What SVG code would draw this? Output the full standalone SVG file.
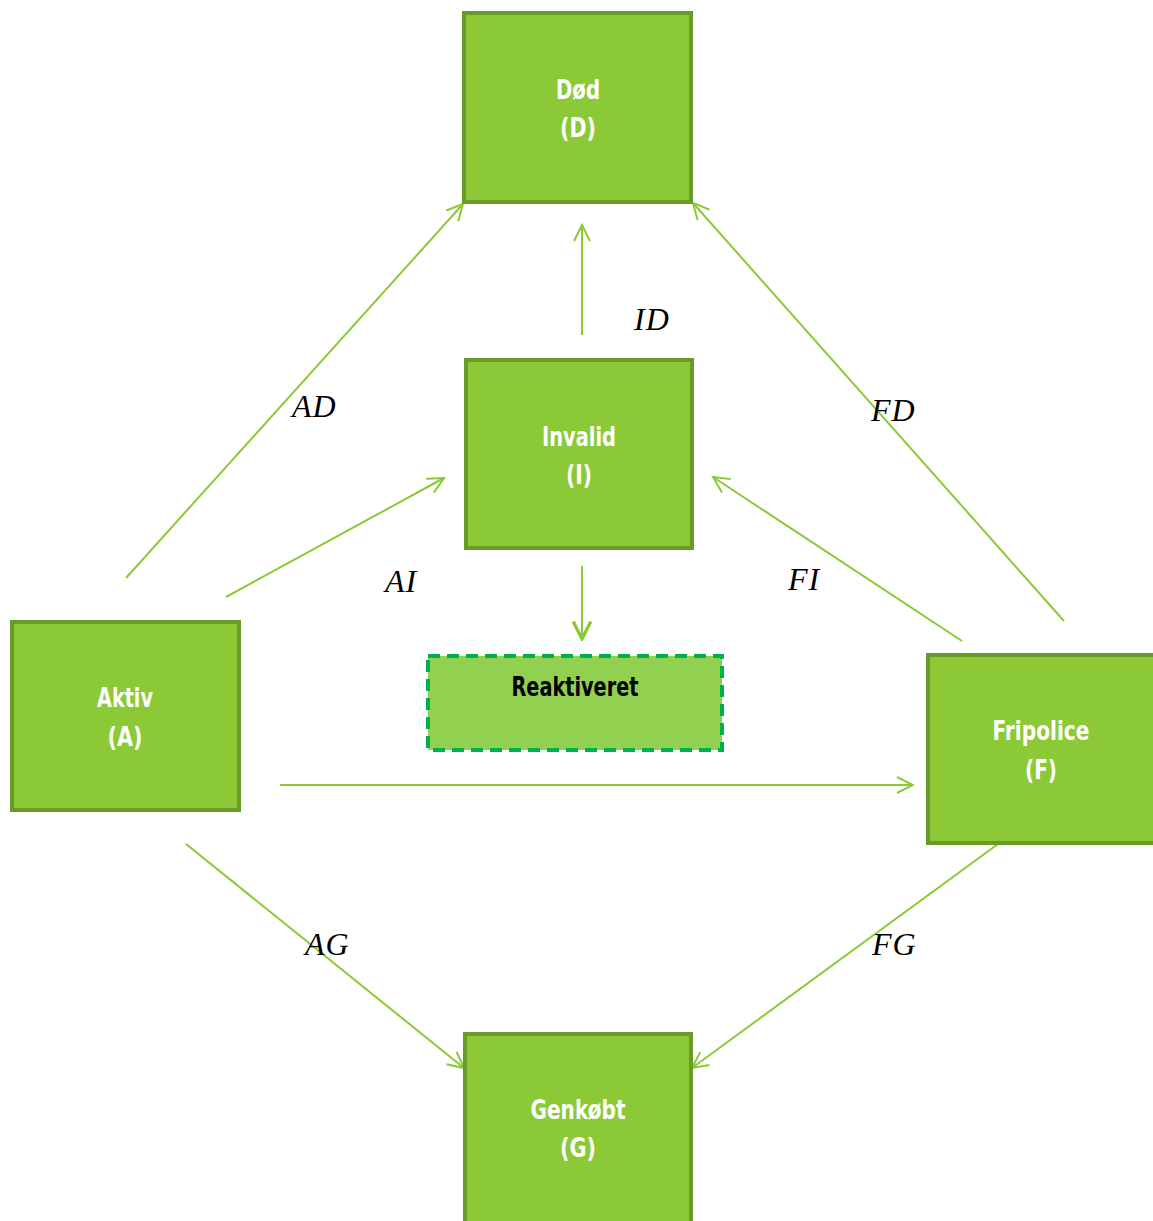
<svg xmlns="http://www.w3.org/2000/svg" width="1153" height="1221" viewBox="0 0 1153 1221">
<style>
.box{fill:#8cc936;stroke:#6a9a27;stroke-width:4}
.t{font-family:"DejaVu Sans Condensed","Liberation Sans Narrow","DejaVu Sans",sans-serif;font-stretch:condensed;font-weight:bold;font-size:27px;fill:#fff;text-anchor:middle}
.lbl{font-family:"Liberation Serif","DejaVu Serif",serif;font-style:italic;font-size:32px;fill:#000;letter-spacing:1px}
.c{stroke:#8cc936;stroke-width:2;fill:none}
</style>
<defs>
<marker id="ah" viewBox="0 0 20 20" refX="18" refY="10" markerWidth="20" markerHeight="20" markerUnits="userSpaceOnUse" orient="auto">
<path d="M2,2 L18,10 L2,18" fill="none" stroke="#8cc936" stroke-width="2"/>
</marker>
<marker id="ah2" viewBox="0 0 20 20" refX="18" refY="10" markerWidth="22" markerHeight="22" markerUnits="userSpaceOnUse" orient="auto">
<path d="M2,2 L18,10 L2,18" fill="none" stroke="#8cc936" stroke-width="3"/>
</marker>
</defs>
<g id="connectors">
<line class="c" x1="126" y1="578" x2="463" y2="204" marker-end="url(#ah)"/>
<line class="c" x1="582" y1="335" x2="582" y2="225" marker-end="url(#ah)"/>
<line class="c" x1="1064" y1="621" x2="693" y2="203" marker-end="url(#ah)"/>
<line class="c" x1="226" y1="597" x2="444" y2="478" marker-end="url(#ah)"/>
<line class="c" x1="962" y1="641" x2="713" y2="477" marker-end="url(#ah)"/>
<line class="c" x1="582" y1="566" x2="582" y2="639" stroke-width="3" marker-end="url(#ah2)"/>
<line class="c" x1="280" y1="785" x2="913" y2="785" marker-end="url(#ah)"/>
<line class="c" x1="186" y1="844" x2="464" y2="1068" marker-end="url(#ah)"/>
<line class="c" x1="998" y1="844" x2="692" y2="1068" marker-end="url(#ah)"/>
<text class="lbl" x="292" y="417">AD</text>
<text class="lbl" x="634" y="330">ID</text>
<text class="lbl" x="871" y="421">FD</text>
<text class="lbl" x="385" y="592">AI</text>
<text class="lbl" x="788" y="590">FI</text>
<text class="lbl" x="305" y="955">AG</text>
<text class="lbl" x="872" y="955">FG</text>
</g>
<g id="node-D">
<rect class="box" x="464" y="13" width="227" height="189"/>
<text class="t" x="578" y="99" textLength="44" lengthAdjust="spacingAndGlyphs">Død</text>
<text class="t" x="578" y="137" textLength="36" lengthAdjust="spacingAndGlyphs">(D)</text>
</g>
<g id="node-I">
<rect class="box" x="466" y="360" width="226" height="188"/>
<text class="t" x="579" y="446" textLength="74" lengthAdjust="spacingAndGlyphs">Invalid</text>
<text class="t" x="579" y="484" textLength="26" lengthAdjust="spacingAndGlyphs">(I)</text>
</g>
<g id="node-A">
<rect class="box" x="12" y="622" width="227" height="188"/>
<text class="t" x="125" y="707" textLength="56" lengthAdjust="spacingAndGlyphs">Aktiv</text>
<text class="t" x="125" y="746" textLength="35" lengthAdjust="spacingAndGlyphs">(A)</text>
</g>
<g id="node-F">
<rect class="box" x="928" y="655" width="228" height="188"/>
<text class="t" x="1041" y="740" textLength="97" lengthAdjust="spacingAndGlyphs">Fripolice</text>
<text class="t" x="1041" y="779" textLength="32" lengthAdjust="spacingAndGlyphs">(F)</text>
</g>
<g id="node-G">
<rect class="box" x="465" y="1034" width="226" height="190"/>
<text class="t" x="578" y="1119" textLength="95" lengthAdjust="spacingAndGlyphs">Genkøbt</text>
<text class="t" x="578" y="1157" textLength="36" lengthAdjust="spacingAndGlyphs">(G)</text>
</g>
<g id="node-R">
<rect x="428" y="656" width="294" height="94" fill="#92d050" stroke="#00b050" stroke-width="4" stroke-dasharray="12,7"/>
<text class="t" x="575" y="696" style="fill:#000" textLength="127" lengthAdjust="spacingAndGlyphs">Reaktiveret</text>
</g>
</svg>
